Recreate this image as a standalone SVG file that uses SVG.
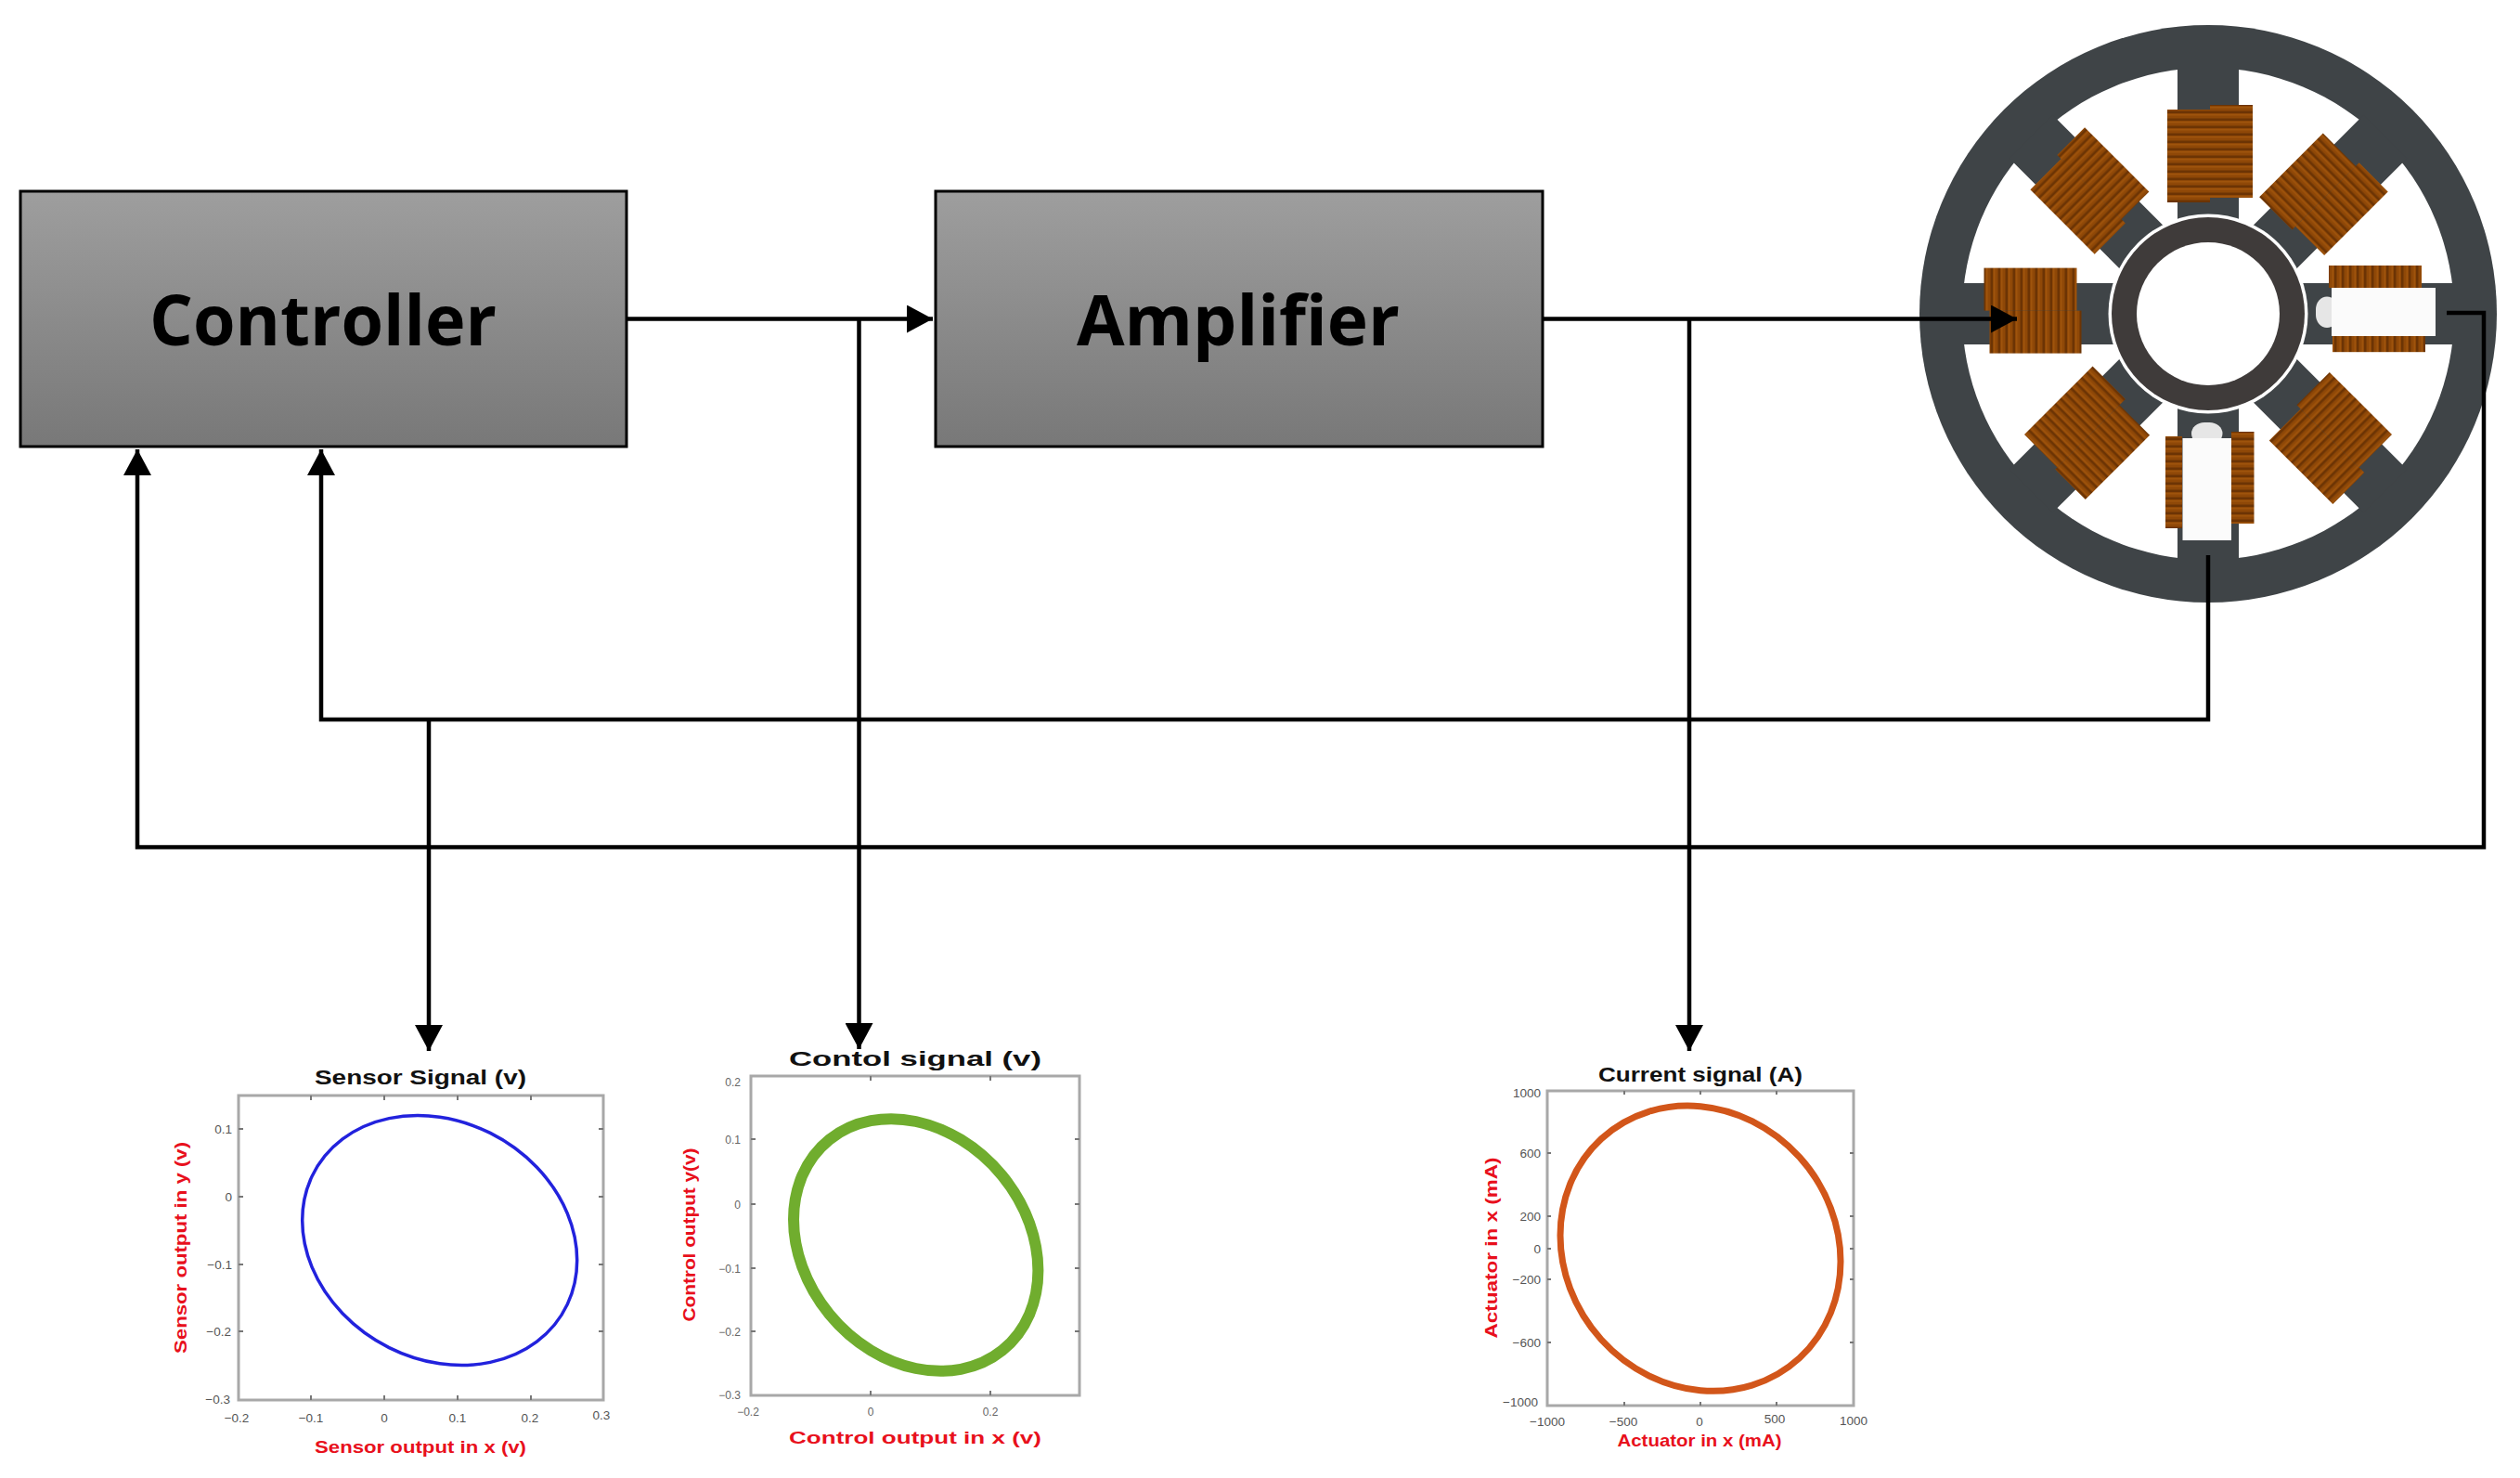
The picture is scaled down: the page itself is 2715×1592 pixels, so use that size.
<svg xmlns="http://www.w3.org/2000/svg" xmlns:xlink="http://www.w3.org/1999/xlink" width="2715" height="1592" viewBox="0 0 2715 1592">
<style>
.box{stroke:#000;stroke-width:3;fill:url(#bg)}
.lbl{font-family:"Open Sans","Liberation Sans",sans-serif;font-weight:700;font-size:76px;fill:#000;text-anchor:middle}
.conn{fill:none;stroke:#000;stroke-width:4.5}
.frame{fill:#fff;stroke:#a8a8a8;stroke-width:3}
.tick{stroke:#777;stroke-width:2;fill:none}
.title{font-family:"Liberation Sans",Arial,sans-serif;font-weight:700;font-size:22px;fill:#111;text-anchor:middle}
.axis{font-family:"Liberation Sans",Arial,sans-serif;font-weight:700;font-size:19px;fill:#e8101c;text-anchor:middle}
.t{font-family:"Liberation Sans",Arial,sans-serif;font-size:13.5px;fill:#555;text-anchor:middle}
.s{font-size:12px;fill:#666}
.r{text-anchor:end}
.st{fill:url(#ws)}
.sr{fill:#fbfbfb}
.bl{fill:#e6e6e6}
.pole{fill:#3f4447}
.curve{fill:none;vector-effect:non-scaling-stroke}
</style>
<defs>
<linearGradient id="bg" x1="0" y1="0" x2="0" y2="1"><stop offset="0" stop-color="#9e9e9e"/><stop offset="1" stop-color="#787878"/></linearGradient>
<pattern id="ws" patternUnits="userSpaceOnUse" width="8" height="8"><rect width="8" height="8" fill="#8f4807"/><rect y="5.500" width="8" height="2.500" fill="#6c3404"/><rect y="1" width="8" height="1.500" fill="#9f540c"/></pattern>
<marker id="ah" markerUnits="userSpaceOnUse" markerWidth="30" markerHeight="30" refX="28" refY="15" orient="auto"><path d="M0 0L28 15L0 30Z" fill="#000"/></marker>
</defs>
<rect width="2715" height="1592" fill="#fff"/>
<g id="controller"><rect class="box" x="22" y="206" width="653" height="275"/><text class="lbl" x="348" y="372" textLength="374" lengthAdjust="spacingAndGlyphs">Controller</text></g>
<g id="amplifier"><rect class="box" x="1008" y="206" width="654" height="275"/><text class="lbl" x="1334" y="372" textLength="348" lengthAdjust="spacingAndGlyphs">Amplifier</text></g>
<g id="motor">
<circle cx="2379" cy="338" r="311" fill="#3f4447"/>
<circle cx="2379" cy="338" r="265" fill="#fff"/>
<g transform="translate(2379 338)">
<rect class="pole" x="-33" y="-270" width="66" height="540"/>
<rect class="pole" x="-33" y="-270" width="66" height="540" transform="rotate(45)"/>
<rect class="pole" x="-33" y="-270" width="66" height="540" transform="rotate(90)"/>
<rect class="pole" x="-33" y="-270" width="66" height="540" transform="rotate(135)"/>
<circle r="107.500" fill="#fff"/>
<circle r="104" fill="#3f3b3a"/>
<circle r="77" fill="#fff"/>
<g><rect class="st" x="-44" y="-220" width="46" height="100"/><rect class="st" x="2" y="-225" width="46" height="100"/></g>
<g transform="rotate(45)"><rect class="st" x="-50" y="-225" width="50" height="97"/><rect class="st" x="0" y="-230" width="44" height="97"/></g>
<g transform="rotate(-45)"><rect class="st" x="-41" y="-230" width="47" height="98"/><rect class="st" x="6" y="-236" width="42" height="98"/></g>
<g transform="rotate(-90)"><rect class="st" x="3.400" y="-241.500" width="46" height="100"/><rect class="st" x="-42.600" y="-235.500" width="46" height="99"/></g>
<g transform="rotate(-135)"><rect class="st" x="-48" y="-235" width="46" height="98"/><rect class="st" x="-2" y="-232" width="50" height="104"/></g>
<g transform="rotate(135)"><rect class="st" x="-48" y="-232" width="50" height="95"/><rect class="st" x="2" y="-240" width="48" height="97"/></g>
<g transform="rotate(90)"><rect class="st" x="-52" y="-230" width="24" height="100"/><rect class="st" x="23.700" y="-234" width="17.500" height="100"/></g>
<rect class="bl" x="116" y="-18.500" width="24" height="33.500" rx="14"/>
<rect class="sr" x="133" y="-28" width="112" height="52"/>
<rect class="st" x="-46" y="132" width="18" height="99"/><rect class="st" x="25" y="127" width="24.500" height="99"/>
<rect class="bl" x="-18" y="117" width="33.500" height="24" rx="14"/>
<rect class="sr" x="-27.500" y="134" width="52.500" height="110"/>
</g>
</g>
<g id="connectors">
<path class="conn" d="M675 343.500H1005" marker-end="url(#ah)"/>
<path class="conn" d="M1662 343.500H2173" marker-end="url(#ah)"/>
<path class="conn" d="M925.500 343.500V1130" marker-end="url(#ah)" stroke-width="4"/>
<path class="conn" d="M1820 343.500V1132" marker-end="url(#ah)" stroke-width="4"/>
<path class="conn" d="M462 775V1132" marker-end="url(#ah)" stroke-width="4"/>
<path class="conn" d="M2379 598V775H346V484" marker-end="url(#ah)"/>
<path class="conn" d="M2636 337H2676V912.500H148V484" marker-end="url(#ah)"/>
</g>
<g id="plot-sensor">
<text class="title" x="453" y="1168" textLength="228" lengthAdjust="spacingAndGlyphs">Sensor Signal (v)</text>
<rect class="frame" x="257" y="1180" width="393" height="328"/>
<path class="tick" d="M335 1180v5M414 1180v5M493 1180v5M572 1180v5M335 1508v-5M414 1508v-5M493 1508v-5M572 1508v-5M257 1216h5M257 1289h5M257 1362h5M257 1434h5M650 1216h-5M650 1289h-5M650 1362h-5M650 1434h-5"/>
<ellipse class="curve" cx="0" cy="0" rx="1" ry="1" transform="matrix(148 21.500 0 132.800 473.700 1336)" stroke="#2222dd" stroke-width="3.500"/>
<text class="t r" x="250" y="1221">0.1</text><text class="t r" x="250" y="1294">0</text><text class="t r" x="250" y="1367">−0.1</text><text class="t r" x="249" y="1439">−0.2</text><text class="t r" x="248" y="1512">−0.3</text>
<text class="t" x="255" y="1532">−0.2</text><text class="t" x="335" y="1532">−0.1</text><text class="t" x="414" y="1532">0</text><text class="t" x="493" y="1532">0.1</text><text class="t" x="571" y="1532">0.2</text><text class="t" x="648" y="1529">0.3</text>
<text class="axis" x="453" y="1565" textLength="228" lengthAdjust="spacingAndGlyphs">Sensor output in x (v)</text>
<text class="axis" transform="translate(201 1344) rotate(-90)" textLength="228" lengthAdjust="spacingAndGlyphs">Sensor output in y (v)</text>
</g>
<g id="plot-control">
<text class="title" x="986" y="1148" textLength="272" lengthAdjust="spacingAndGlyphs">Contol signal (v)</text>
<rect class="frame" x="809" y="1159" width="354" height="344"/>
<path class="tick" d="M938 1159v5M1067 1159v5M938 1503v-5M1067 1503v-5M809 1227h5M809 1297h5M809 1366h5M809 1434h5M1163 1227h-5M1163 1297h-5M1163 1366h-5M1163 1434h-5"/>
<ellipse class="curve" cx="0" cy="0" rx="1" ry="1" transform="matrix(131.700 27.500 0 133 986.700 1341)" stroke="#70ad2e" stroke-width="12"/>
<text class="t s r" x="798" y="1170">0.2</text><text class="t s r" x="798" y="1232">0.1</text><text class="t s r" x="798" y="1302">0</text><text class="t s r" x="798" y="1371">−0.1</text><text class="t s r" x="798" y="1439">−0.2</text><text class="t s r" x="798" y="1507">−0.3</text>
<text class="t s" x="806" y="1525">−0.2</text><text class="t s" x="938" y="1525">0</text><text class="t s" x="1067" y="1525">0.2</text>
<text class="axis" x="986" y="1555" textLength="272" lengthAdjust="spacingAndGlyphs">Control output in x (v)</text>
<text class="axis" transform="translate(749 1330) rotate(-90)" textLength="187" lengthAdjust="spacingAndGlyphs">Control output y(v)</text>
</g>
<g id="plot-current">
<text class="title" x="1832" y="1165" textLength="220" lengthAdjust="spacingAndGlyphs">Current signal (A)</text>
<rect class="frame" x="1667" y="1175" width="330" height="339"/>
<path class="tick" d="M1750 1175v4M1832 1175v4M1914 1175v4M1750 1514v-4M1832 1514v-4M1914 1514v-4M1667 1242h4M1667 1310h4M1667 1345h4M1667 1378h4M1667 1446h4M1997 1242h-4M1997 1310h-4M1997 1345h-4M1997 1378h-4M1997 1446h-4"/>
<ellipse class="curve" cx="0" cy="0" rx="1" ry="1" transform="matrix(151 14 0 153 1832 1344.700)" stroke="#d2561a" stroke-width="7"/>
<text class="t r" x="1660" y="1182">1000</text><text class="t r" x="1660" y="1247">600</text><text class="t r" x="1660" y="1315">200</text><text class="t r" x="1660" y="1350">0</text><text class="t r" x="1660" y="1383">−200</text><text class="t r" x="1660" y="1451">−600</text><text class="t r" x="1657" y="1515">−1000</text>
<text class="t" x="1667" y="1536">−1000</text><text class="t" x="1749" y="1536">−500</text><text class="t" x="1831" y="1536">0</text><text class="t" x="1912" y="1533">500</text><text class="t" x="1997" y="1535">1000</text>
<text class="axis" x="1831" y="1558" textLength="177" lengthAdjust="spacingAndGlyphs">Actuator in x (mA)</text>
<text class="axis" transform="translate(1613 1344) rotate(-90)" textLength="195" lengthAdjust="spacingAndGlyphs">Actuator in x (mA)</text>
</g>
</svg>
